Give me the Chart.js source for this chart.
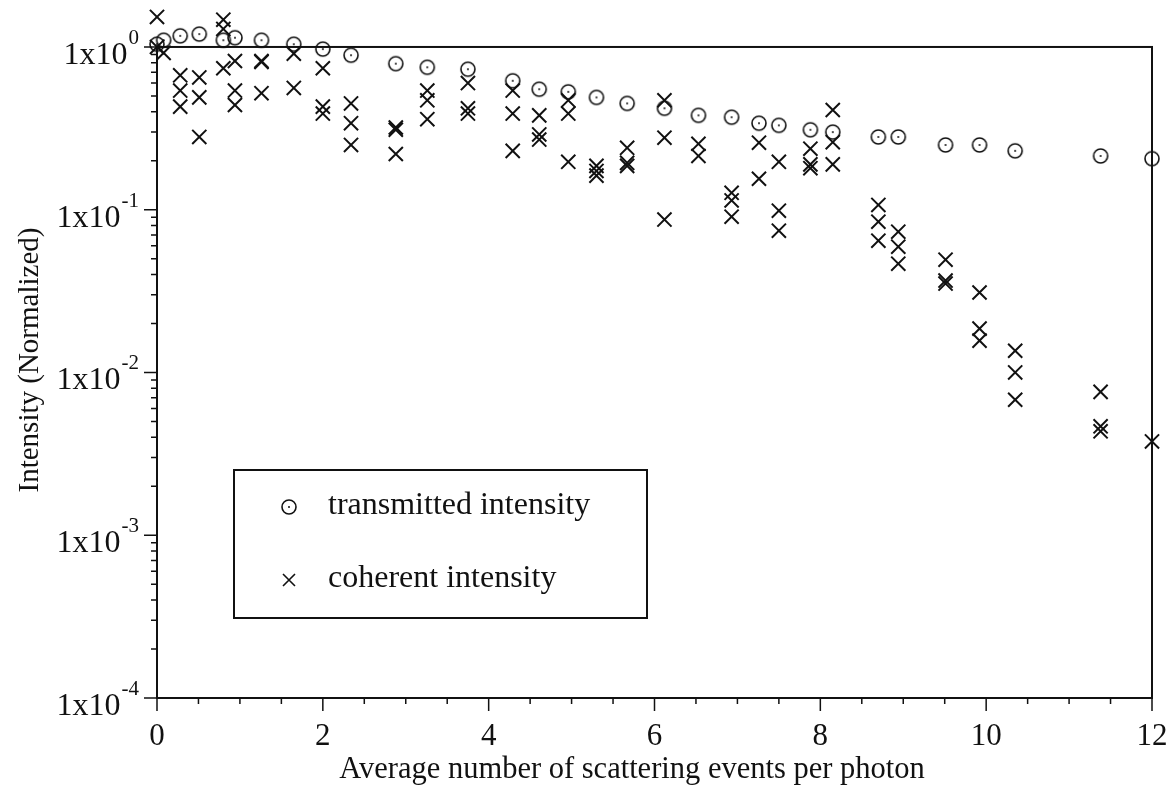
<!DOCTYPE html>
<html>
<head>
<meta charset="utf-8">
<script src="https://cdn.jsdelivr.net/npm/chart.js@4.4.1/dist/chart.umd.min.js"></script>
<style>
  html, body { margin: 0; background: #fff; }
  #wrap { width: 1170px; height: 790px; }
</style>
</head>
<body>
<div id="wrap"><canvas id="chart"></canvas></div>
<script>
// transmitted intensity (circles)
const transX = [0, 0.08, 0.28, 0.51, 0.8, 0.94, 1.26, 1.65, 2.0, 2.34, 2.88, 3.26, 3.75, 4.29, 4.61, 4.96,
  5.3, 5.67, 6.12, 6.53, 6.93, 7.26, 7.5, 7.88, 8.15, 8.7, 8.94, 9.51, 9.92, 10.35, 11.38, 12];
const transY = [1.04, 1.10, 1.17, 1.20, 1.10, 1.14, 1.10, 1.04, 0.97, 0.89, 0.79, 0.75, 0.73, 0.62, 0.55, 0.53,
  0.49, 0.45, 0.42, 0.38, 0.37, 0.34, 0.33, 0.31, 0.30, 0.28, 0.28, 0.25, 0.25, 0.23, 0.214, 0.206];

// coherent intensity (crosses)
const coherX = [0, 0, 0.08, 0.28, 0.28, 0.28, 0.51, 0.51, 0.51, 0.8, 0.8, 0.8, 0.94, 0.94, 0.94,
  1.26, 1.26, 1.26, 1.65, 1.65, 2.0, 2.0, 2.0, 2.34, 2.34, 2.34, 2.88, 2.88, 2.88,
  3.26, 3.26, 3.26, 3.75, 3.75, 3.75, 4.29, 4.29, 4.29, 4.61, 4.61, 4.61, 4.96, 4.96, 4.96,
  5.3, 5.3, 5.3, 5.67, 5.67, 5.67, 6.12, 6.12, 6.12, 6.53, 6.53, 6.93, 6.93, 6.93,
  7.26, 7.26, 7.5, 7.5, 7.5, 7.88, 7.88, 7.88, 8.15, 8.15, 8.15, 8.7, 8.7, 8.7,
  8.94, 8.94, 8.94, 9.51, 9.51, 9.51, 9.92, 9.92, 9.92, 10.35, 10.35, 10.35,
  11.38, 11.38, 11.38, 12];
const coherY = [1.53, 1.0, 0.92, 0.67, 0.54, 0.43, 0.65, 0.49, 0.28, 1.47, 1.29, 0.74, 0.82, 0.54, 0.44,
  0.82, 0.81, 0.52, 0.91, 0.56, 0.74, 0.43, 0.39, 0.45, 0.34, 0.25, 0.32, 0.31, 0.22,
  0.54, 0.47, 0.36, 0.60, 0.42, 0.39, 0.54, 0.39, 0.23, 0.38, 0.29, 0.27, 0.47, 0.39, 0.197,
  0.186, 0.173, 0.162, 0.24, 0.194, 0.186, 0.47, 0.277, 0.087, 0.254, 0.214, 0.127, 0.114, 0.0906,
  0.258, 0.155, 0.197, 0.0986, 0.0743, 0.237, 0.19, 0.18, 0.41, 0.26, 0.19, 0.107, 0.0844, 0.0645,
  0.0733, 0.0593, 0.0466, 0.0493, 0.0367, 0.0352, 0.031, 0.0186, 0.0157, 0.0136, 0.0100, 0.0068,
  0.0076, 0.00467, 0.00435, 0.00377];

const yDecades = [0, -1, -2, -3, -4];
const xLabels = [0, 2, 4, 6, 8, 10, 12];

const SERIF = "'Liberation Serif', 'Times New Roman', serif";
const INK = '#111';

// circle with a centre dot
function dotCircle() {
  const c = document.createElement('canvas');
  c.width = 20;
  c.height = 20;
  const g = c.getContext('2d');
  g.strokeStyle = INK;
  g.lineWidth = 1.6;
  g.beginPath();
  g.arc(10, 10, 7, 0, Math.PI * 2);
  g.stroke();
  g.fillStyle = INK;
  g.beginPath();
  g.arc(10, 10, 1, 0, Math.PI * 2);
  g.fill();
  return c;
}
const circleImg = dotCircle();

const axesPlugin = {
  id: 'axesPlugin',
  beforeDatasetsDraw(chart) {
    const { ctx, chartArea: a, scales } = chart;
    const x = scales.x;
    const y = scales.y;
    const top = y.getPixelForValue(1);
    ctx.save();
    ctx.strokeStyle = INK;
    ctx.lineWidth = 2;
    ctx.strokeRect(a.left, top, a.right - a.left, a.bottom - top);

    // y ticks, major and minor
    ctx.lineWidth = 1.5;
    ctx.beginPath();
    yDecades.forEach((e) => {
      const py = y.getPixelForValue(Math.pow(10, e));
      ctx.moveTo(a.left - 13, py);
      ctx.lineTo(a.left, py);
      if (e < 0) {
        for (let m = 2; m <= 9; m++) {
          const pm = y.getPixelForValue(m * Math.pow(10, e));
          ctx.moveTo(a.left - 6, pm);
          ctx.lineTo(a.left, pm);
        }
      }
    });
    // x ticks
    for (let v = 0; v <= 12; v += 0.5) {
      const px = x.getPixelForValue(v);
      ctx.moveTo(px, a.bottom);
      ctx.lineTo(px, a.bottom + (v % 2 === 0 ? 13 : 6));
    }
    ctx.stroke();

    // y labels 1x10^n
    ctx.fillStyle = INK;
    const right = 139;
    yDecades.forEach((e) => {
      const py = y.getPixelForValue(Math.pow(10, e));
      const exp = String(e);
      ctx.font = '21px ' + SERIF;
      const ew = ctx.measureText(exp).width;
      ctx.textAlign = 'left';
      ctx.textBaseline = 'alphabetic';
      ctx.fillText(exp, right - ew, py - 3);
      ctx.font = '32px ' + SERIF;
      ctx.textAlign = 'right';
      ctx.fillText('1x10', right - ew - 1, py + 17);
    });

    // axis titles
    ctx.font = '30.5px ' + SERIF;
    ctx.textAlign = 'center';
    ctx.textBaseline = 'alphabetic';
    ctx.fillText('Average number of scattering events per photon', 632, 778);
    ctx.font = '29px ' + SERIF;
    ctx.save();
    ctx.translate(38, 360);
    ctx.rotate(-Math.PI / 2);
    ctx.fillText('Intensity (Normalized)', 0, 0);
    ctx.restore();

    // legend
    ctx.lineWidth = 2;
    ctx.strokeRect(234, 470, 413, 148);
    ctx.drawImage(circleImg, 289 - 10, 507 - 10);
    ctx.lineWidth = 1.6;
    ctx.beginPath();
    ctx.moveTo(283, 574);
    ctx.lineTo(295, 586);
    ctx.moveTo(295, 574);
    ctx.lineTo(283, 586);
    ctx.stroke();
    ctx.font = '32px ' + SERIF;
    ctx.textAlign = 'left';
    ctx.textBaseline = 'middle';
    ctx.fillText('transmitted intensity', 328, 506);
    ctx.fillText('coherent intensity', 328, 579);
    ctx.restore();
  },
};

new Chart(document.getElementById('chart'), {
  type: 'scatter',
  data: {
    datasets: [
      {
        label: 'transmitted intensity',
        data: transX.map((v, i) => ({ x: v, y: transY[i] })),
        pointStyle: circleImg,
        pointRadius: 8,
        clip: false,
      },
      {
        label: 'coherent intensity',
        data: coherX.map((v, i) => ({ x: v, y: coherY[i] })),
        pointStyle: 'crossRot',
        pointRadius: 10,
        borderColor: INK,
        borderWidth: 2,
        clip: false,
      },
    ],
  },
  options: {
    responsive: true,
    maintainAspectRatio: false,
    animation: false,
    devicePixelRatio: 1,
    events: [],
    layout: { padding: { top: 11, right: 18, left: 0, bottom: 0 } },
    plugins: { legend: { display: false }, tooltip: { enabled: false } },
    scales: {
      x: {
        type: 'linear',
        min: 0,
        max: 12,
        afterFit: (s) => {
          s.height = 92;
          s.paddingLeft = 0;
          s.paddingRight = 0;
        },
        afterBuildTicks: (s) => { s.ticks = xLabels.map((v) => ({ value: v })); },
        grid: { display: false, drawTicks: false },
        border: { display: false },
        ticks: {
          color: INK,
          padding: 20,
          maxRotation: 0,
          autoSkip: false,
          font: { family: SERIF, size: 31 },
        },
      },
      y: {
        type: 'logarithmic',
        // top of the plot box is 1; the extra head room keeps the marks above it visible
        min: 1e-4,
        max: 1.64,
        afterFit: (s) => { s.width = 157; },
        grid: { display: false, drawTicks: false },
        border: { display: false },
        ticks: { display: false },
      },
    },
  },
  plugins: [axesPlugin],
});
</script>
</body>
</html>
